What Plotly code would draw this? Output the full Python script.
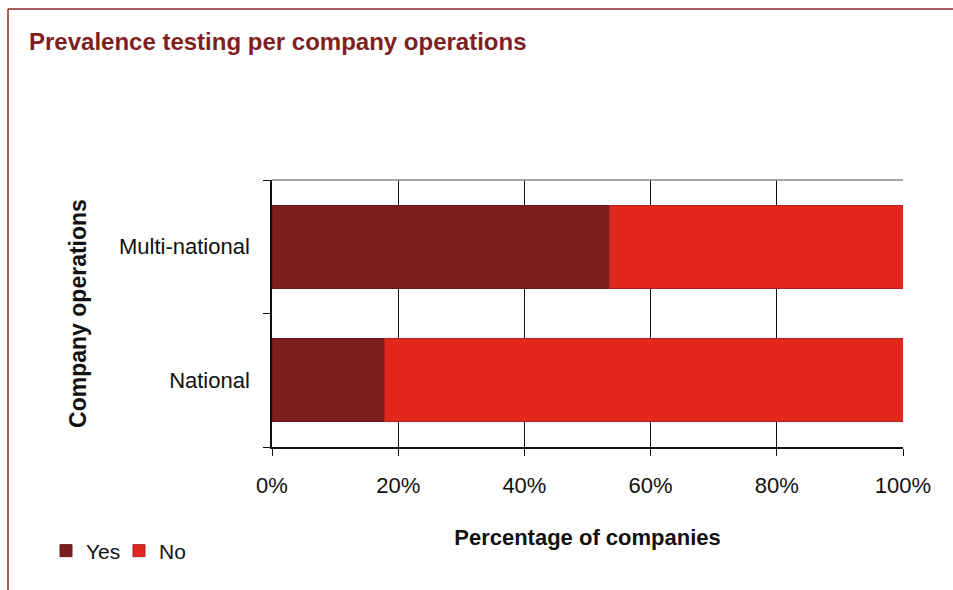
import plotly.graph_objects as go

# Share of companies per operation type
categories = ["National", "Multi-national"]
yes_pct = [17.9, 53.5]
no_pct = [82.1, 46.5]

DARK = "#7A1E1E"
RED = "#E2281C"
FRAME = "#8E2A2A"

W, H = 953, 590
L, R, T, B = 272, 50, 180, 143
pw, ph = W - L - R, H - T - B


def px_x(x):
    return (x - L) / pw


def px_y(y):
    return (H - B - y) / ph


fig = go.Figure()
fig.add_trace(go.Bar(
    y=categories, x=yes_pct, name="Yes", orientation="h",
    marker=dict(color=DARK, line=dict(color="#6A1818", width=1)),
    width=0.62,
))
fig.add_trace(go.Bar(
    y=categories, x=no_pct, name="No", orientation="h",
    marker=dict(color=RED, line=dict(color="#B02020", width=1)),
    width=0.62,
))

fig.update_layout(
    barmode="stack",
    width=W, height=H,
    margin=dict(l=L, r=R, t=T, b=B),
    paper_bgcolor="white",
    plot_bgcolor="white",
    font=dict(family="Liberation Sans, Arial, sans-serif", color="#111111", size=22),
    title=dict(
        text="<b>Prevalence testing per company operations</b>",
        x=29 / W, xref="container", xanchor="left",
        y=1 - 42 / H, yref="container", yanchor="middle",
        font=dict(size=24, color="#7F1F1F"),
    ),
    legend=dict(
        orientation="h",
        x=px_x(46), y=px_y(551), xanchor="left", yanchor="middle",
        font=dict(size=21),
        traceorder="normal",
        itemwidth=30,
        tracegroupgap=0,
        entrywidth=28, entrywidthmode="pixels",
    ),
    bargap=0.38,
    showlegend=True,
)

fig.update_xaxes(
    range=[0, 100],
    tickvals=[0, 20, 40, 60, 80, 100],
    ticktext=["0%", "20%", "40%", "60%", "80%", "100%"],
    showgrid=True, gridcolor="#111111", gridwidth=1,
    showline=True, linecolor="#111111", linewidth=1.5,
    ticks="outside", ticklen=7, tickcolor="#111111",
    ticklabelstandoff=11,
    tickfont=dict(size=22),
    title=dict(text="<b>Percentage of companies</b>", standoff=32,
               font=dict(size=22)),
    zeroline=False,
    fixedrange=True,
)
fig.update_yaxes(
    type="category",
    categoryorder="array", categoryarray=categories,
    range=[-0.5, 1.5],
    tickson="boundaries",
    ticks="outside", ticklen=7, tickcolor="#111111",
    showline=True, linecolor="#111111", linewidth=1.5,
    showgrid=False,
    ticklabelstandoff=16,
    tickfont=dict(size=22),
    title=dict(text="<b>Company operations</b>", standoff=26,
               font=dict(size=23)),
    fixedrange=True,
)

# Grey top border of the plot area
fig.add_shape(type="line", xref="paper", yref="paper",
              x0=0, x1=1, y0=1, y1=1,
              line=dict(color="#888888", width=1.5))

# Outer frame: top and left rules
fig.add_shape(type="line", xref="paper", yref="paper",
              x0=px_x(8), x1=px_x(W + 5), y0=px_y(9), y1=px_y(9),
              line=dict(color=FRAME, width=1.5))
fig.add_shape(type="line", xref="paper", yref="paper",
              x0=px_x(8), x1=px_x(8), y0=px_y(9), y1=px_y(H + 5),
              line=dict(color=FRAME, width=1.5))

fig.write_html("out.html")
